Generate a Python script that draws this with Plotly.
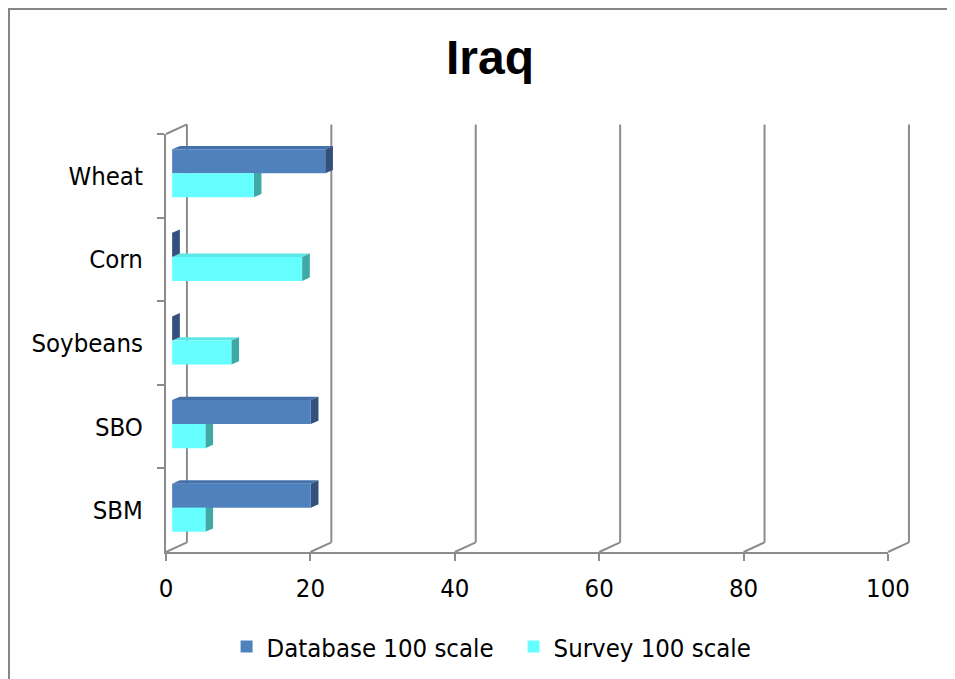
import plotly.graph_objects as go

# Values (0-100 scale)
categories = ['Wheat', 'Corn', 'Soybeans', 'SBO', 'SBM']
database = [21.2, 0, 0, 19.2, 19.2]
survey = [11.3, 18.0, 8.2, 4.6, 4.6]
x_ticks = [0, 20, 40, 60, 80, 100]

BLUE = '#4F81BD'
BLUE_SIDE = '#34507D'
BLUE_TOP = '#4471AA'
CYAN = '#66FFFF'
CYAN_SIDE = '#3FA9A6'
CYAN_TOP = '#5CE6E6'
GRID = '#8C8C8C'
FONT = 'DejaVu Sans Condensed, DejaVu Sans'
FSIZE = 25.5

# 3D look: depth of the back wall and of each bar
WALL_DX = 2.9      # x units
WALL_DY = 0.023    # paper units
BAR_DX = 1.07      # x units
BAR_DY = 0.04      # category units
BAR_SHIFT_X = 0.85
BAR_SHIFT_Y = 0.03
BARGAP = 0.425
W = (1 - BARGAP) / 2

# the page adds an 8px body margin, plot area is wanted at 166..888 x 134..552
L, T = 158, 126
PW, PH = 722, 418

fig = go.Figure()

# invisible trace so the main category axis gets its labels
fig.add_trace(go.Scatter(x=survey, y=categories, mode='none',
                         showlegend=False, hoverinfo='skip'))

fig.add_trace(go.Bar(
    name='Database 100 scale', y=categories, x=database, orientation='h',
    marker=dict(color=BLUE, line=dict(width=0)), xaxis='x2', yaxis='y2'
))
fig.add_trace(go.Bar(
    name='Survey 100 scale', y=categories, x=survey, orientation='h',
    marker=dict(color=CYAN, line=dict(width=0)), xaxis='x2', yaxis='y2'
))

shapes = []
line = dict(color=GRID, width=2)

# back wall and floor
shapes.append(dict(type='line', xref='paper', yref='paper', layer='below',
                   x0=0, y0=1, x1=WALL_DX / 100, y1=1 + WALL_DY, line=line))
for t in x_ticks:
    xb = (t + WALL_DX) / 100
    shapes.append(dict(type='line', xref='paper', yref='paper', layer='below',
                       x0=xb, y0=WALL_DY, x1=xb, y1=1 + WALL_DY, line=line))
    shapes.append(dict(type='line', xref='paper', yref='paper', layer='below',
                       x0=t / 100, y0=0, x1=xb, y1=WALL_DY, line=line))


def faces(v, y_top, y_bot, side_col, top_col):
    top = (f'M 0,{y_top} L {BAR_DX},{y_top - BAR_DY} '
           f'L {v + BAR_DX},{y_top - BAR_DY} L {v},{y_top} Z')
    side = (f'M {v},{y_top} L {v + BAR_DX},{y_top - BAR_DY} '
            f'L {v + BAR_DX},{y_bot - BAR_DY} L {v},{y_bot} Z')
    out = []
    for p, c in ((top, top_col), (side, side_col)):
        out.append(dict(type='path', path=p, xref='x2', yref='y2', layer='below',
                        fillcolor=c, line=dict(width=0)))
    return out


for i, v in enumerate(survey):
    shapes += faces(v, i, i + W, CYAN_SIDE, CYAN_TOP)
for i, v in enumerate(database):
    shapes += faces(v, i - W, i, BLUE_SIDE, BLUE_TOP)

# outer chart border (top and left edges of the figure)
shapes.append(dict(type='rect', xref='paper', yref='paper', layer='below',
                   x0=(1 - L) / PW, y0=-0.5, x1=1.2, y1=1 + (T - 1) / PH,
                   line=dict(color='#868686', width=2), fillcolor='rgba(0,0,0,0)'))

fig.update_layout(
    template='none',
    width=955, height=679,
    margin=dict(l=L, r=955 - L - PW, t=T, b=679 - T - PH, autoexpand=False),
    paper_bgcolor='white', plot_bgcolor='rgba(0,0,0,0)',
    title=dict(text='<b>Iraq</b>', xref='container', x=482 / 955, xanchor='center',
               y=1 - 49 / 679, yanchor='middle',
               font=dict(family='Liberation Sans Narrow, Liberation Sans', size=48, color='black')),
    barmode='group', bargap=BARGAP, bargroupgap=0,
    xaxis=dict(range=[0, 100], tickvals=x_ticks, showgrid=False, zeroline=False,
               showline=True, linecolor=GRID, linewidth=2,
               ticks='outside', ticklen=7, tickcolor=GRID, tickwidth=2,
               ticklabelstandoff=5,
               tickfont=dict(family=FONT, size=FSIZE, color='black'), fixedrange=True),
    yaxis=dict(type='category', categoryorder='array', categoryarray=categories,
               range=[4.5, -0.5], showgrid=False, zeroline=False,
               showline=True, linecolor=GRID, linewidth=2,
               ticks='outside', ticklen=7, tickcolor=GRID, tickwidth=2,
               tickson='boundaries', ticklabelstandoff=16,
               tickfont=dict(family=FONT, size=FSIZE, color='black'), fixedrange=True),
    xaxis2=dict(overlaying='x', anchor='y', range=[-BAR_SHIFT_X, 100 - BAR_SHIFT_X],
                visible=False, fixedrange=True),
    yaxis2=dict(overlaying='y', anchor='x', type='category', categoryorder='array',
                categoryarray=categories,
                range=[4.5 + BAR_SHIFT_Y, -0.5 + BAR_SHIFT_Y],
                visible=False, fixedrange=True),
    legend=dict(orientation='h', xref='container', yref='container',
                x=0.5294, xanchor='center', y=1 - 639 / 679, yanchor='middle',
                font=dict(family=FONT, size=FSIZE, color='black'),
                itemwidth=30, entrywidth=242, traceorder='normal'),
    shapes=shapes,
    showlegend=True,
)

fig.write_html('out.html')
